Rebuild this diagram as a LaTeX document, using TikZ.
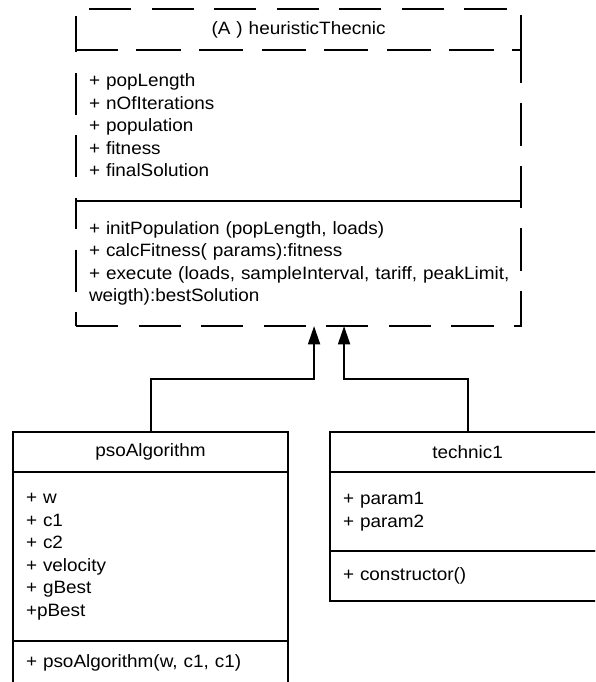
\documentclass[tikz,border=0pt]{standalone}
\usepackage{fontspec}
\setmainfont{Liberation Sans}[FakeStretch=1.06]
\usetikzlibrary{positioning,arrows.meta,calc}

\tikzset{
  part/.style={draw, line width=1.4pt, outer sep=0pt, inner xsep=0.325cm,
    inner ysep=0pt, align=left, font=\fontsize{12.7}{16}\selectfont},
  abstractpart/.style={part, dash pattern=on 30pt off 14.5pt},
  heupart/.style={abstractpart, minimum width=11.125cm, text width=10.475cm},
  classpart/.style={part, minimum width=6.875cm, text width=6.225cm},
  inherits/.style={line width=1.4pt, -{Triangle[width=8.5pt,length=13pt]}}
}

\begin{document}
\begin{tikzpicture}[x=0.025cm,y=-0.025cm]
  \useasboundingbox (0,0) rectangle (595,682);
  \clip (0,0) rectangle (595,682);

  % abstract class
  \node[heupart, align=center, minimum height=1.025cm, anchor=north west] (heu-head) at (76,9)
    {(A ) heuristicThecnic};
  \node[heupart, minimum height=3.775cm, below=0pt of heu-head] (heu-attr)
    {+ popLength\\+ nOfIterations\\+ population\\+ fitness\\+ finalSolution};
  \node[heupart, minimum height=3.125cm, below=0pt of heu-attr] (heu-meth)
    {+ initPopulation (popLength, loads)\\+ calcFitness( params):fitness\\
     \mbox{+ execute (loads, sampleInterval, tariff, peakLimit,}\\weigth):bestSolution};

  % subclasses
  \node[classpart, align=center, minimum height=1cm, anchor=north west] (pso-head) at (13,432)
    {psoAlgorithm};
  \node[classpart, minimum height=4.225cm, below=0pt of pso-head] (pso-attr)
    {+ w\\+ c1\\+ c2\\+ velocity\\+ gBest\\+pBest};
  \node[classpart, minimum height=1.1cm, below=0pt of pso-attr] (pso-meth)
    {+ psoAlgorithm(w, c1, c1)};

  \node[classpart, align=center, minimum height=1cm, anchor=north west] (tec-head) at (330,432)
    {technic1};
  \node[classpart, minimum height=1.975cm, below=0pt of tec-head] (tec-attr)
    {+ param1\\+ param2};
  \node[classpart, minimum height=1.25cm, below=0pt of tec-attr] (tec-meth)
    {+ constructor()};

  % generalisation
  \coordinate (in-pso) at ($(heu-meth.south)+(15.5,0)$);
  \coordinate (in-tec) at ($(heu-meth.south)+(45.5,0)$);
  \draw[inherits] (pso-head.north) -- ++(0,-53) -| (in-pso);
  \draw[inherits] (tec-head.north) -- ++(0,-53) -| (in-tec);
\end{tikzpicture}
\end{document}
